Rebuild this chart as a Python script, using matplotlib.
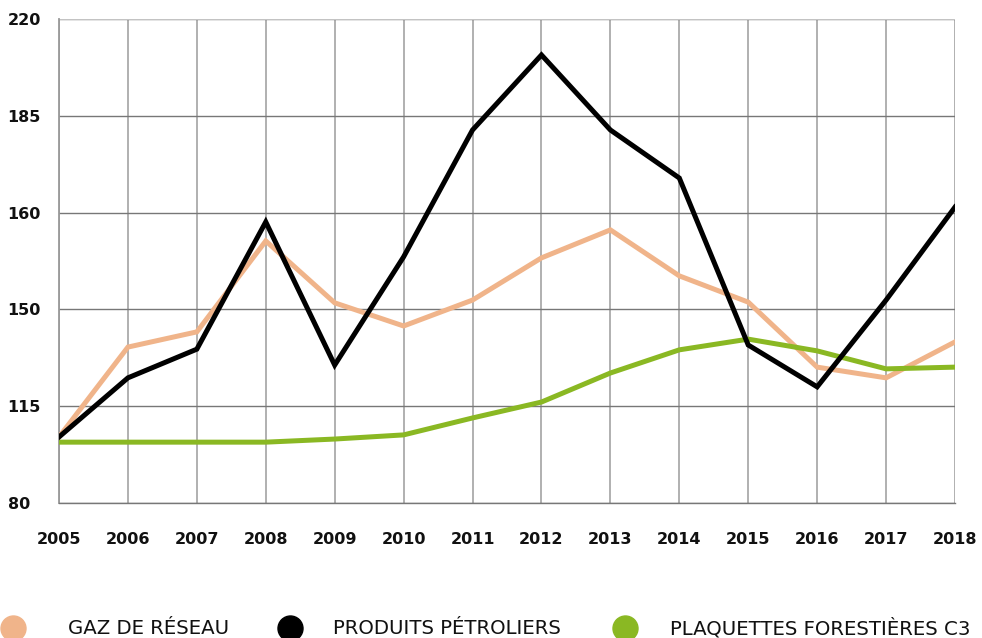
import matplotlib

matplotlib.use("Agg")
import matplotlib.pyplot as plt
import numpy as np
from matplotlib.lines import Line2D

years = list(range(2005, 2019))
gaz_reseau = [99.1, 125.1, 129.5, 155.8, 137.9, 131.2, 138.7, 150.9, 159.0, 145.7, 138.1, 119.3, 116.2, 126.6]
produits_petroliers = [99.1, 116.2, 124.5, 161.3, 119.9, 151.2, 187.9, 209.6, 187.9, 174.0, 125.7, 113.6, 138.7, 165.6]
plaquettes_c3 = [97.6, 97.6, 97.6, 97.6, 98.5, 99.7, 104.6, 109.2, 117.6, 124.3, 127.4, 124.0, 118.8, 119.3]
y_tick_labels = ["80", "115", "150", "160", "185", "220"]
legend_labels = ["GAZ DE RÉSEAU", "PRODUITS PÉTROLIERS", "PLAQUETTES FORESTIÈRES C3"]
colors = ["#F0B48A", "#000000", "#8AB823"]

W, H = 982, 638
fig = plt.figure(figsize=(W / 100, H / 100), dpi=100)
ax = fig.add_axes([59 / W, 1 - 503 / H, (955 - 59) / W, (503 - 19) / H])

ax.plot(years, gaz_reseau, color=colors[0], linewidth=3.6, solid_joinstyle="miter", zorder=3)
ax.plot(years, plaquettes_c3, color=colors[2], linewidth=3.6, solid_joinstyle="miter", zorder=3)
ax.plot(years, produits_petroliers, color=colors[1], linewidth=3.6, solid_joinstyle="miter", zorder=4)

ax.set_xlim(2005, 2018)
ax.set_ylim(80, 220)
ax.set_xticks(years)
ax.set_xticklabels([str(y) for y in years])
ax.set_yticks(np.linspace(80, 220, 6))
ax.set_yticklabels(y_tick_labels)

for lbl in ax.get_yticklabels():
    lbl.set_horizontalalignment("left")
ax.tick_params(axis="y", length=0, pad=37)
ax.tick_params(axis="x", length=0, pad=21)
for lbl in ax.get_xticklabels() + ax.get_yticklabels():
    lbl.set_fontfamily("DejaVu Sans")
    lbl.set_fontweight("bold")
    lbl.set_fontsize(11.5)
    lbl.set_color("#111111")

ax.grid(True, axis="y", color="#777777", linewidth=1.0, zorder=1)
ax.grid(True, axis="x", color="#aaaaaa", linewidth=1.3, zorder=1)
ax.set_axisbelow(True)
for side in ["top", "right"]:
    ax.spines[side].set_visible(False)
ax.spines["left"].set_color("#999999")
ax.spines["bottom"].set_color("#777777")
ax.spines["left"].set_linewidth(1.3)
ax.spines["bottom"].set_linewidth(1.0)
ax.axhline(220, color="#cccccc", linewidth=1.3, zorder=1)

marker_x = [13, 290, 625]
text_x = [68, 333, 670]
for mx, tx, lab, col in zip(marker_x, text_x, legend_labels, colors):
    fig.add_artist(Line2D([mx / W], [1 - 628 / H], marker="o", markersize=18,
                          color=col, linestyle="none", transform=fig.transFigure))
    fig.text(tx / W, 1 - 628 / H, lab, fontsize=14.2, family="DejaVu Sans", color="#111111",
             ha="left", va="center")

fig.savefig("out.png", dpi=100)
